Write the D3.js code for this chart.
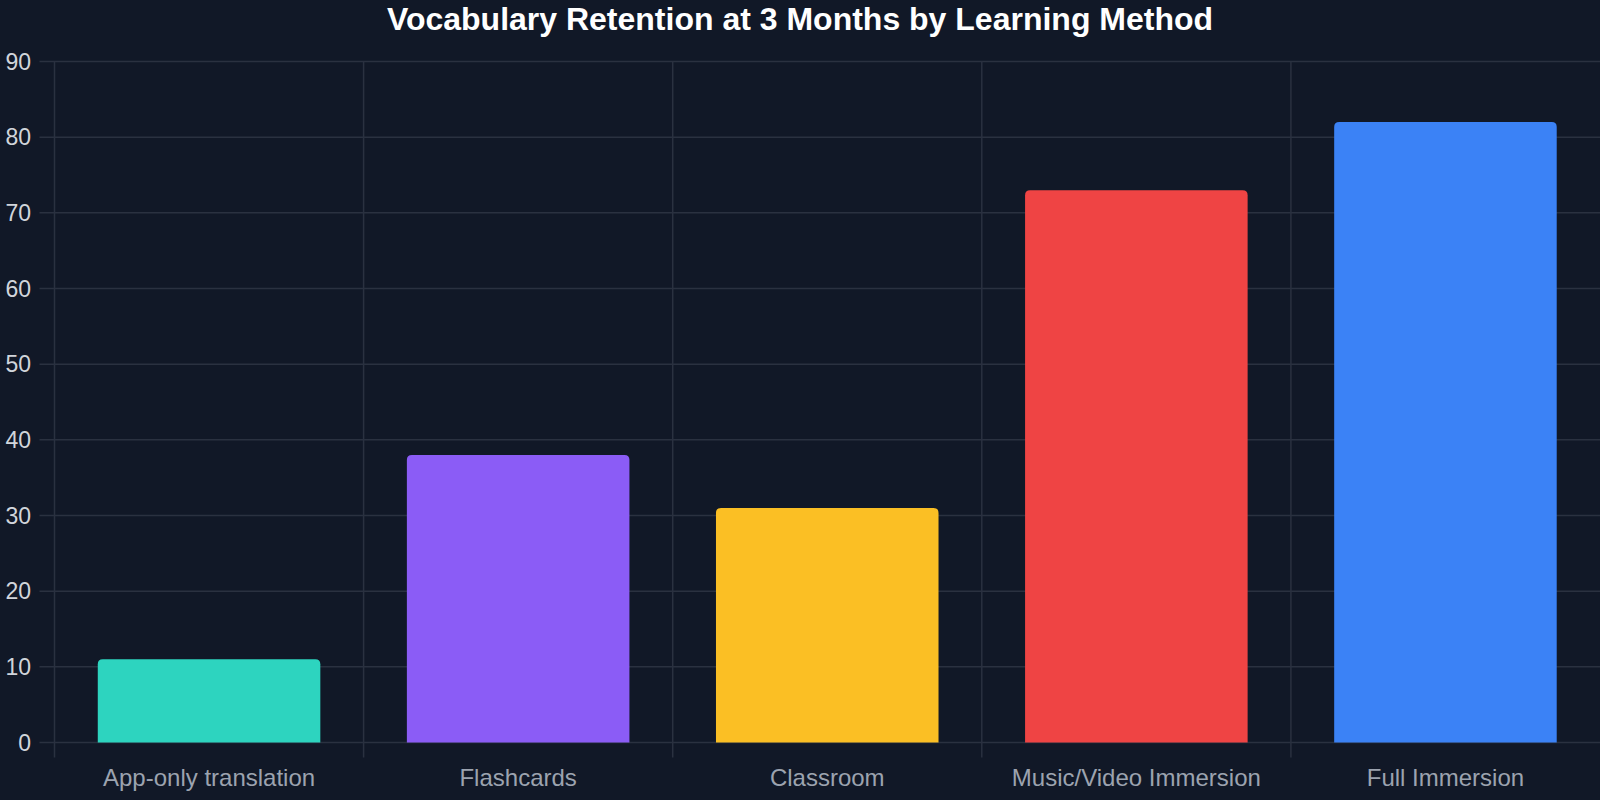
<!DOCTYPE html>
<html>
<head>
<meta charset="utf-8">
<script src="https://cdn.jsdelivr.net/npm/d3@7"></script>
<style>
  html, body { margin: 0; padding: 0; background: #111827; }
  svg { display: block; font-family: 'Liberation Sans', Arial, sans-serif; }
</style>
</head>
<body>
<div id="chart"></div>
<script>
'use strict';

// chart data
const methods = ['App-only translation', 'Flashcards', 'Classroom', 'Music/Video Immersion', 'Full Immersion'];
const retention = [11, 38, 31, 73, 82];
const barColors = ['#2dd4bf', '#8b5cf6', '#fbbf24', '#ef4444', '#3b82f6'];
const yTicks = [0, 10, 20, 30, 40, 50, 60, 70, 80, 90];

const width = 1600;
const height = 800;
const margin = { left: 54.5, right: 0, top: 61.5, bottom: 57.5 };

const svg = d3.select('#chart')
  .append('svg')
    .attr('width', width)
    .attr('height', height);

svg.append('rect')
  .attr('width', width)
  .attr('height', height)
  .attr('fill', '#111827');

const x = d3.scaleBand()
  .domain(methods)
  .range([margin.left, width - margin.right])
  .paddingInner(0.28)
  .paddingOuter(0.14);

const y = d3.scaleLinear()
  .domain([0, 90])
  .range([height - margin.bottom, margin.top]);

const gridColor = '#2a3140';
const step = x.step();

// horizontal grid + left ticks
svg.append('g')
  .selectAll('line')
  .data(yTicks)
  .join('line')
    .attr('x1', margin.left - 15)
    .attr('x2', width)
    .attr('y1', d => y(d))
    .attr('y2', d => y(d))
    .attr('stroke', gridColor)
    .attr('stroke-width', 1.5);

// vertical grid at band boundaries, extending below as ticks
const boundaries = methods.map(m => x(m) - step * x.paddingInner() / 2);
svg.append('g')
  .selectAll('line')
  .data(boundaries)
  .join('line')
    .attr('x1', d => d)
    .attr('x2', d => d)
    .attr('y1', margin.top)
    .attr('y2', height - margin.bottom + 15)
    .attr('stroke', gridColor)
    .attr('stroke-width', 1.5);

// y labels
svg.append('g')
  .selectAll('text')
  .data(yTicks)
  .join('text')
    .attr('x', 31)
    .attr('y', d => y(d))
    .attr('dy', '0.35em')
    .attr('text-anchor', 'end')
    .attr('fill', '#d1d5db')
    .style('font-size', '23px')
    .text(d => d);

// bars with rounded top corners
const r = 5;
function barPath (d, i) {
  const x0 = x(methods[i]);
  const x1 = x0 + x.bandwidth();
  const y0 = y(0);
  const y1 = y(d);
  return `M${x0},${y0}V${y1 + r}Q${x0},${y1} ${x0 + r},${y1}H${x1 - r}Q${x1},${y1} ${x1},${y1 + r}V${y0}Z`;
}

svg.append('g')
  .selectAll('path')
  .data(retention)
  .join('path')
    .attr('d', barPath)
    .attr('fill', (d, i) => barColors[i]);

// x labels
svg.append('g')
  .selectAll('text')
  .data(methods)
  .join('text')
    .attr('x', d => x(d) + x.bandwidth() / 2)
    .attr('y', 786)
    .attr('text-anchor', 'middle')
    .attr('fill', '#9ca3af')
    .style('font-size', '24px')
    .text(d => d);

// title
svg.append('text')
  .attr('x', width / 2)
  .attr('y', 30)
  .attr('text-anchor', 'middle')
  .attr('fill', '#ffffff')
  .style('font-size', '32px')
  .style('font-weight', 'bold')
  .text('Vocabulary Retention at 3 Months by Learning Method');
</script>
</body>
</html>
